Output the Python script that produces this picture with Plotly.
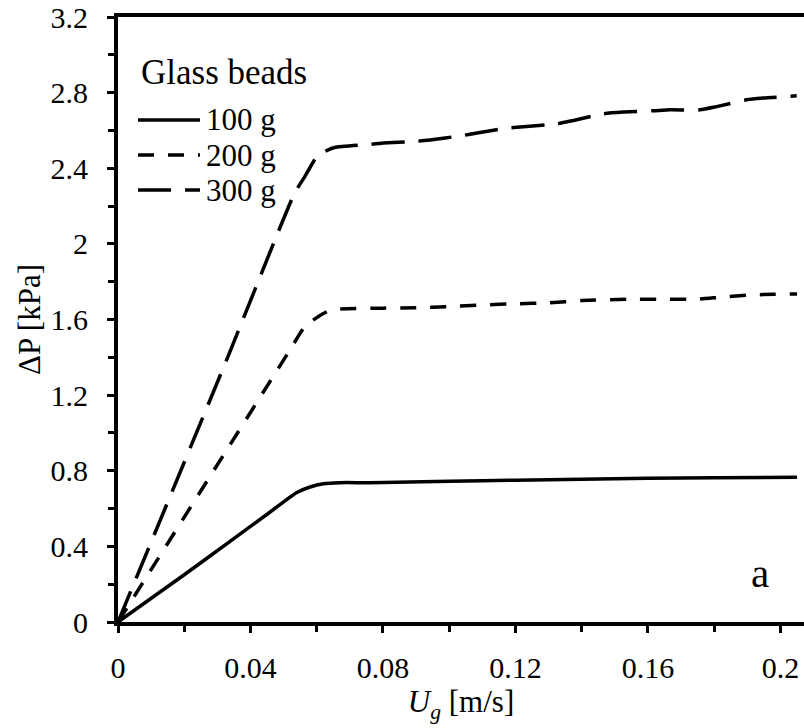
import plotly.graph_objects as go

# ---- data ----
series_names = ["100 g", "200 g", "300 g"]

ug_100 = [0.0, 0.02, 0.033, 0.045, 0.054, 0.058, 0.062, 0.067, 0.076, 0.10, 0.12, 0.14, 0.16, 0.18, 0.205]
dp_100 = [0.0, 0.25, 0.416, 0.57, 0.685, 0.714, 0.731, 0.737, 0.737, 0.745, 0.750, 0.755, 0.760, 0.763, 0.766]

ug_200 = [0.0, 0.0513, 0.0564, 0.0604, 0.0644, 0.080, 0.090, 0.100, 0.110, 0.120, 0.130, 0.140, 0.155, 0.165, 0.175, 0.182, 0.191, 0.205]
dp_200 = [0.0, 1.422, 1.562, 1.615, 1.651, 1.660, 1.662, 1.668, 1.677, 1.683, 1.688, 1.700, 1.707, 1.707, 1.707, 1.718, 1.730, 1.735]

ug_300 = [0.0, 0.0332, 0.0533, 0.0564, 0.0604, 0.0654, 0.0745, 0.0801, 0.0892, 0.0942, 0.1033, 0.1093, 0.1174,
          0.1234, 0.1325, 0.1375, 0.1465, 0.1526, 0.1616, 0.1667, 0.1757, 0.1807, 0.1898, 0.1948, 0.2049]
dp_300 = [0.0, 1.404, 2.268, 2.356, 2.470, 2.510, 2.524, 2.533, 2.541, 2.550, 2.571, 2.589, 2.612,
          2.621, 2.635, 2.653, 2.688, 2.697, 2.704, 2.709, 2.709, 2.726, 2.762, 2.771, 2.783]

x_tickvals = [0, 0.04, 0.08, 0.12, 0.16, 0.2]
y_tickvals = [0, 0.4, 0.8, 1.2, 1.6, 2, 2.4, 2.8, 3.2]

FONT = "Liberation Serif"
dashes = ["solid", "16px,14px", "33px,14px"]
xs = [ug_100, ug_200, ug_300]
ys = [dp_100, dp_200, dp_300]

fig = go.Figure()
for name, x, y, d in zip(series_names, xs, ys, dashes):
    fig.add_trace(go.Scatter(
        x=x, y=y, mode="lines", name=name, showlegend=False,
        line=dict(color="black", width=3.5, dash=d, shape="spline", smoothing=0.5),
    ))

# ---- custom legend (longer line samples as in the reference) ----
shapes = []
annotations = [dict(text="Glass beads", x=0.031, y=0.909, xref="paper", yref="paper",
                    xanchor="left", yanchor="middle", showarrow=False,
                    font=dict(family=FONT, size=35, color="black"))]
row_y = [0.8298, 0.7719, 0.7140]
for name, d, ry in zip(series_names, dashes, row_y):
    shapes.append(dict(type="line", xref="paper", yref="paper", x0=0.0292, x1=0.1195, y0=ry, y1=ry,
                       line=dict(color="black", width=3.5, dash=d)))
    annotations.append(dict(text=name, x=0.1255, y=ry, xref="paper", yref="paper",
                            xanchor="left", yanchor="middle", showarrow=False,
                            font=dict(family=FONT, size=31, color="black")))
annotations.append(dict(text="a", x=0.936, y=0.081, xref="paper", yref="paper",
                        xanchor="center", yanchor="middle", showarrow=False,
                        font=dict(family=FONT, size=41, color="black")))

axis_common = dict(
    showgrid=False, zeroline=False, showline=True, linecolor="black", linewidth=4,
    ticks="outside", ticklen=7, tickwidth=3, tickcolor="black",
    tickfont=dict(family=FONT, size=30, color="black"),
)

fig.update_layout(
    width=804, height=728,
    margin=dict(l=118, r=0, t=17, b=106),
    paper_bgcolor="white", plot_bgcolor="white",
    font=dict(family=FONT, color="black"),
    shapes=shapes, annotations=annotations,
    xaxis=dict(
        range=[0, 0.2071], tickvals=x_tickvals, mirror=True,
        minor=dict(dtick=0.02, ticks="outside", ticklen=6, tickwidth=3, tickcolor="black"),
        ticklabelstandoff=9,
        title=dict(text="<i>U</i><sub><i>g</i></sub> [m/s]", standoff=4,
                   font=dict(family=FONT, size=31, color="black")),
        **axis_common,
    ),
    yaxis=dict(
        range=[0, 3.2], tickvals=y_tickvals, mirror=False,
        minor=dict(dtick=0.2, ticks="outside", ticklen=6, tickwidth=3, tickcolor="black"),
        ticklabelstandoff=13,
        title=dict(text="ΔP [kPa]", standoff=2, font=dict(family=FONT, size=31, color="black")),
        **axis_common,
    ),
)

fig.write_html("out.html")
